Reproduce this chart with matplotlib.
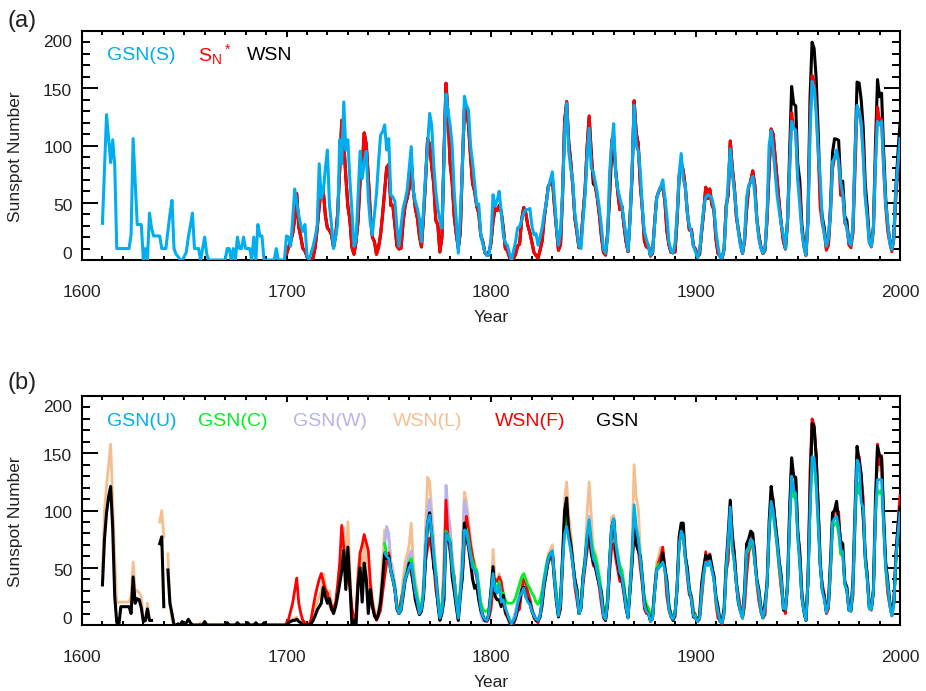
import numpy as np
import matplotlib
matplotlib.use("Agg")
import matplotlib.pyplot as plt
from matplotlib.ticker import MultipleLocator, NullFormatter
from matplotlib.transforms import blended_transform_factory

plt.rcParams['font.family'] = ['Liberation Sans', 'DejaVu Sans']
plt.rcParams['mathtext.default'] = 'regular'

nan = float('nan')

# ---------------- Panel (a) data ----------------
GSN_S_START = 1610
GSN_S = [
    32, 80, 127, 106, 85, 105, 83, 10, 10, 10,      # 1610
    10, 10, 10, 10, 22, 106, 68, 31, 31, 31,        # 1620
    0, 10, 0, 41, 28, 21, 21, 21, 21, 10,           # 1630
    10, 10, 25, 40, 52, 10, 5, 3, 0, 0,             # 1640
    3, 7, 20, 30, 41, 10, 10, 10, 0, 10,            # 1650
    20, 5, 0, 0, 0, 0, 0, 0, 0, 0,                  # 1660
    0, 10, 10, 0, 10, 0, 20, 10, 10, 20,            # 1670
    10, 10, 10, 0, 20, 0, 31, 21, 21, 0,            # 1680
    0, 0, 0, 0, 0, 10, 0, 0, 0, 0,                  # 1690
    21, 20, 12, 35, 62, 50, 39, 30, 25, 31,         # 1700
    4, 0, 6, 12, 20, 30, 84, 54, 60, 80,            # 1710
    96, 48, 31, 10, 20, 31, 105, 84, 138, 96,       # 1720
    105, 70, 42, 12, 17, 55, 95, 71, 85, 95,        # 1730
    54, 32, 22, 40, 58, 85, 109, 112, 118, 96,      # 1740
    106, 57, 55, 51, 29, 12, 30, 45, 52, 61,        # 1750
    80, 99, 60, 51, 45, 36, 16, 45, 74, 100,        # 1760
    128, 118, 83, 60, 45, 35, 28, 86, 145, 130,     # 1770
    118, 100, 60, 36, 6, 40, 80, 143, 135, 131,     # 1780
    100, 85, 67, 48, 49, 22, 14, 7, 4, 4,           # 1790
    19, 57, 47, 52, 60, 42, 22, 15, 13, 6,          # 1800
    0, 8, 16, 28, 29, 35, 41, 44, 44, 45,           # 1810
    30, 22, 23, 13, 20, 28, 40, 50, 63, 70,         # 1820
    77, 55, 30, 13, 25, 60, 110, 137, 95, 80,       # 1830
    68, 40, 28, 12, 10, 35, 57, 90, 115, 80,        # 1840
    77, 68, 58, 45, 29, 10, 6, 19, 77, 100,         # 1850
    119, 75, 62, 54, 47, 35, 22, 8, 35, 80,         # 1860
    135, 100, 95, 78, 45, 25, 18, 12, 4, 7,         # 1870
    30, 54, 60, 64, 70, 55, 39, 16, 8, 6,           # 1880
    15, 40, 75, 93, 70, 65, 40, 30, 24, 12,         # 1890
    7, 2, 8, 28, 45, 55, 57, 56, 54, 46,            # 1900
    25, 12, 2, 2, 10, 42, 70, 97, 75, 60,           # 1910
    42, 24, 12, 6, 20, 55, 65, 68, 73, 58,          # 1920
    35, 18, 10, 6, 10, 42, 100, 113, 95, 75,        # 1930
    55, 42, 30, 22, 10, 35, 80, 121, 115, 113,      # 1940
    70, 47, 25, 12, 4, 35, 110, 156, 150, 128,      # 1950
    95, 72, 35, 22, 12, 20, 42, 86, 89, 96,         # 1960
    85, 68, 58, 35, 28, 16, 13, 30, 95, 135,        # 1970
    130, 120, 89, 55, 36, 15, 12, 28, 85, 121,      # 1980
    118, 121, 83, 50, 33, 15, 9, 20, 63, 85,        # 1990
    106,                                            # 2000
]

WSN_START = 1700
WSN = [
    5, 11, 16, 23, 36, 58, 29, 20, 10, 8,
    3, 0, 0, 2, 11, 27, 47, 63, 60, 39,
    28, 26, 22, 11, 21, 40, 78, 122, 103, 73,
    47, 35, 11, 5, 16, 34, 70, 81, 111, 101,
    73, 40, 20, 16, 5, 11, 22, 40, 60, 80.9,
    83.4, 47.7, 47.8, 30.7, 12.2, 9.6, 10.2, 32.4, 47.6, 54.0,
    62.9, 85.9, 61.2, 45.1, 36.4, 20.9, 11.4, 37.8, 69.8, 106.1,
    100.8, 81.6, 66.5, 34.8, 30.6, 7.0, 19.8, 92.5, 154.4, 125.9,
    84.8, 68.1, 38.5, 22.8, 10.2, 24.1, 82.9, 132.0, 130.9, 118.1,
    89.9, 66.6, 60.0, 46.9, 41.0, 21.3, 16.0, 6.4, 4.1, 6.8,
    14.5, 34.0, 45.0, 43.1, 47.5, 42.2, 28.1, 10.1, 8.1, 2.5,
    0.0, 1.4, 5.0, 12.2, 13.9, 35.4, 45.8, 41.0, 30.1, 23.9,
    15.6, 6.6, 4.0, 1.8, 8.5, 16.6, 36.3, 49.6, 64.2, 67.0,
    70.9, 47.8, 27.5, 8.5, 13.2, 56.9, 121.5, 138.3, 103.2, 85.7,
    64.6, 36.7, 24.2, 10.7, 15.0, 40.1, 61.5, 98.5, 124.7, 96.3,
    66.6, 64.5, 54.1, 39.0, 20.6, 6.7, 4.3, 22.7, 54.8, 93.8,
    95.8, 77.2, 59.1, 44.0, 47.0, 30.5, 16.3, 7.3, 37.6, 74.0,
    139.0, 111.2, 101.6, 66.2, 44.7, 17.0, 11.3, 12.4, 3.4, 6.0,
    32.3, 54.3, 59.7, 63.7, 63.5, 52.2, 25.4, 13.1, 6.8, 6.3,
    7.1, 35.6, 73.0, 85.1, 78.0, 64.0, 41.8, 26.2, 26.7, 12.1,
    9.5, 2.7, 5.0, 24.4, 42.0, 63.5, 53.8, 62.0, 48.5, 43.9,
    18.6, 5.7, 3.6, 1.4, 9.6, 47.4, 57.1, 103.9, 80.6, 63.6,
    37.6, 26.1, 14.2, 5.8, 16.7, 44.3, 63.9, 69.0, 77.8, 64.9,
    35.7, 21.2, 11.1, 5.7, 8.7, 36.1, 79.7, 114.4, 109.6, 88.8,
    67.8, 47.5, 30.6, 16.3, 9.6, 33.2, 92.6, 151.6, 136.3, 134.7,
    83.9, 69.4, 31.5, 13.9, 4.4, 38.0, 141.7, 190.2, 184.8, 159.0,
    112.3, 53.9, 37.6, 27.9, 10.2, 15.1, 47.0, 93.8, 105.9, 105.5,
    104.5, 66.6, 68.9, 38.0, 34.5, 15.5, 12.6, 27.5, 92.5, 155.4,
    154.6, 140.4, 115.9, 66.6, 45.9, 17.9, 13.4, 29.4, 100.2, 157.6,
    142.6, 145.7, 94.3, 54.6, 29.9, 17.5, 8.6, 21.5, 64.3, 93.3,
    119.6,
]

SN_STAR_START = 1700
SN_STAR = [
    5, 11, 16, 23, 36, 58, 29, 20, 10, 8,
    3, 0, 0, 2, 11, 27, 47, 63, 60, 39,
    28, 26, 22, 11, 21, 40, 78, 122, 103, 73,
    47, 35, 11, 5, 16, 34, 70, 81, 111, 101,
    73, 40, 20, 16, 5, 11, 22, 40, 60, 80.9,
    83.4, 47.7, 47.8, 30.7, 12.2, 9.6, 10.2, 32.4, 47.6, 54.0,
    62.9, 85.9, 61.2, 45.1, 36.4, 20.9, 11.4, 37.8, 69.8, 106.1,
    100.8, 81.6, 66.5, 34.8, 30.6, 7.0, 19.8, 92.5, 154.4, 125.9,
    84.8, 68.1, 38.5, 22.8, 10.2, 24.1, 82.9, 132.0, 130.9, 118.1,
    89.9, 66.6, 60.0, 46.9, 41.0, 21.3, 16.0, 6.4, 4.1, 6.8,
    14.5, 34.0, 45.0, 43.1, 47.5, 42.2, 28.1, 10.1, 8.1, 2.5,
    0.0, 1.4, 5.0, 12.2, 13.9, 35.4, 45.8, 41.0, 30.1, 23.9,
    15.6, 6.6, 4.0, 1.8, 8.5, 16.6, 36.3, 49.6, 64.2, 67.0,
    70.9, 47.8, 27.5, 8.5, 13.2, 56.9, 121.5, 138.3, 103.2, 85.7,
    64.6, 36.7, 24.2, 10.7, 15.0, 40.1, 61.5, 98.5, 126.0, 92.0,
    72.0, 64.5, 54.1, 39.0, 20.6, 6.7, 4.3, 22.7, 60.0, 105.0,
    108.0, 77.2, 59.1, 44.0, 47.0, 30.5, 16.3, 7.3, 37.6, 74.0,
    139.0, 111.2, 101.6, 66.2, 44.7, 17.0, 11.3, 12.4, 3.4, 6.0,
    32.3, 54.3, 59.7, 63.7, 63.5, 52.2, 25.4, 13.1, 6.8, 6.3,
    7.1, 35.6, 73.0, 85.1, 78.0, 64.0, 41.8, 26.2, 26.7, 12.1,
    9.5, 2.7, 5.0, 24.4, 42.0, 63.5, 53.8, 62.0, 48.5, 43.9,
    18.6, 5.7, 3.6, 1.4, 9.6, 47.4, 57.1, 103.9, 80.6, 63.6,
    37.6, 26.1, 14.2, 5.8, 16.7, 44.3, 63.9, 69.0, 77.8, 64.9,
    35.7, 21.2, 11.1, 5.7, 8.7, 36.1, 79.7, 114.4, 109.6, 88.8,
    67.8, 47.5, 30.6, 16.3, 9.6, 33.2, 78.5, 128.5, 115.5, 114.2,
    71.1, 58.8, 26.7, 11.8, 3.7, 32.2, 120.1, 161.2, 156.6, 134.7,
    95.2, 45.7, 31.9, 23.6, 8.6, 12.8, 39.8, 79.5, 89.7, 89.4,
    88.6, 56.4, 58.4, 32.2, 29.2, 13.1, 10.7, 23.3, 78.4, 131.7,
    131.0, 119.0, 98.2, 56.4, 38.9, 15.2, 11.4, 24.9, 84.9, 133.6,
    120.8, 123.5, 79.9, 46.3, 25.3, 14.8, 7.3, 18.2, 54.5, 79.1,
    101.4,
]

# ---------------- Panel (b) data ----------------
GSN_START = 1610
GSN = [
    35, 75, 98, 112, 121, 85, 25, 2, 0, 16,
    16, 16, 16, 16, 10, 42, 19, 23, 22, 15,
    3, 4, 14, 4, 4, nan, nan, nan, 71, 77,
    16, nan, 48, 19, 10, 0, 0, 1, 0, 3,
    0, 2, 5, 2, 0, 0, 0, 0, 0, 0,
    3, 0, 0, 0, 0, 0, 0, 0, 0, 0,
    0, 2, 0, 0, 0, 0, 2, 0, 0, 0,
    0, 2, 0, 0, 0, 2, 0, 0, 0, 2,
    0, 0, 0, 0, 0, 0, 0, 0, 0, 0,
    0, 2, 3, 4, 4, 5, 3, 2, 0, 0,
    0, 0, 1, 4, 8, 13, 16, 19, 33, 25,
    19, 23, 15, 10, 16, 25, 36, 47, 65, 31,
    68, 36, 0, 4, 0, 35, 50, 20, 54, 40,
    10, 31, 16, 8, 5, 10, 20, 40, 63, 58,
    60, 47, 40, 31, 15, 10, 13, 25, 39, 45,
    54, 50, 36, 22, 15, 9, 12, 25, 60, 89,
    98, 77, 50, 42, 19, 4, 10, 22, 80, 75,
    71, 42, 30, 16, 4, 25, 42, 89, 77, 68,
    55, 40, 32, 35, 22, 13, 8, 4, 4, 10,
    31, 51, 25, 22, 22, 16, 26, 12, 8, 4,
    0, 3, 7, 15, 22, 30, 33, 25, 22, 19,
    12, 8, 4, 4, 7, 20, 36, 45, 57, 62,
    64, 39, 20, 7, 20, 60, 100, 111, 80, 70,
    54, 40, 31, 10, 15, 42, 55, 75, 86, 63,
    55, 51, 42, 35, 28, 10, 4, 19, 54, 85,
    92, 65, 55, 44, 40, 31, 16, 7, 30, 55,
    93, 71, 65, 60, 40, 20, 13, 10, 4, 7,
    30, 48, 50, 52, 63, 50, 39, 16, 8, 4,
    10, 31, 77, 89, 89, 60, 50, 31, 22, 7,
    6, 4, 8, 36, 50, 61, 58, 61, 52, 42,
    25, 16, 3, 3, 15, 54, 80, 109, 75, 60,
    36, 19, 12, 7, 31, 71, 75, 82, 80, 57,
    40, 31, 15, 7, 20, 36, 90, 121, 106, 90,
    74, 55, 42, 13, 15, 36, 100, 146, 130, 129,
    83, 60, 25, 12, 4, 40, 110, 176, 173, 147,
    100, 55, 31, 25, 12, 20, 55, 98, 100, 108,
    90, 73, 71, 38, 33, 13, 13, 39, 100, 156,
    144, 130, 95, 60, 42, 15, 15, 31, 110, 156,
    148, 146, 95, 55, 39, 20, 13, 20, 60, 85,
    103,
]

WSN_L_START = 1610
WSN_L = [
    47, 100, 121, 140, 158, 110, 60, 19, 20, 20,
    20, 20, 20, 20, 25, 55, 29, 30, 28, 25,
    4, 4, 19, 4, 4, nan, nan, nan, 90, 100,
    77, nan, 62, 19, 5, 0, 0, 1, 0, 2,
    1, 2, 4, 2, 0, 0, 0, 0, 2, 0,
    2, 0, 0, 0, 0, 0, 0, 0, 0, 0,
    0, 1, 0, 0, 0, 0, 1, 0, 0, 0,
    0, 1, 0, 0, 0, 1, 0, 0, 0, 1,
    0, 0, 0, 0, 0, 0, 0, 0, 0, 0,
    0, 2, 4, 5, 6, 7, 4, 2, 0, 0,
    0, 0, 2, 6, 12, 20, 25, 30, 45, 35,
    28, 30, 20, 14, 20, 32, 48, 62, 85, 45,
    90, 50, 5, 8, 4, 50, 64, 30, 74, 50,
    18, 40, 22, 12, 8, 14, 28, 55, 83, 78,
    75, 55, 50, 35, 15, 12, 18, 40, 55, 62,
    70, 89, 55, 38, 30, 14, 18, 38, 85, 129,
    125, 100, 75, 50, 30, 8, 18, 60, 106, 95,
    85, 60, 42, 25, 8, 35, 70, 116, 108, 92,
    75, 60, 55, 48, 35, 16, 10, 5, 4, 8,
    25, 66, 40, 38, 45, 35, 30, 15, 10, 4,
    1, 3, 8, 18, 25, 35, 42, 35, 28, 22,
    14, 8, 5, 4, 9, 22, 40, 50, 62, 66,
    70, 45, 25, 8, 15, 58, 110, 125, 95, 80,
    62, 38, 26, 11, 15, 40, 60, 98, 125, 96,
    67, 64, 54, 39, 21, 7, 4, 23, 55, 94,
    96, 77, 59, 44, 47, 30, 16, 7, 38, 74,
    140, 111, 102, 66, 45, 17, 11, 12, 3, 6,
    32, 54, 60, 68, 64, 52, 25, 13, 7, 6,
    7, 36, 73, 85, 78, 64, 42, 26, 27, 12,
    9, 3, 5, 24, 42, 62, 53, 60, 47, 42,
    18, 6, 4, 1, 10, 46, 56, 100, 78, 62,
    37, 25, 14, 6, 16, 43, 62, 67, 75, 63,
    35, 21, 11, 6, 9, 35, 78, 110, 106, 86,
    66, 46, 30, 16, 10, 32, 90, 142, 128, 126,
    80, 65, 30, 13, 4, 36, 130, 172, 170, 148,
    104, 50, 35, 26, 10, 14, 44, 88, 98, 98,
    97, 62, 64, 35, 32, 14, 12, 26, 86, 145,
    143, 130, 108, 62, 43, 17, 13, 28, 93, 148,
    135, 138, 88, 51, 28, 16, 8, 20, 60, 87,
    109,
]

WSN_F_START = 1700
WSN_F = [
    2, 5, 12, 19, 30, 41, 19, 10, 4, 2,
    1, 0, 5, 15, 25, 33, 40, 45, 38, 31,
    28, 19, 13, 15, 19, 35, 54, 87, 68, 44,
    40, 33, 15, 5, 10, 40, 63, 70, 79, 72,
    65, 36, 20, 10, 4, 8, 13, 28, 42, 55,
    63, 47, 40, 31, 13, 10, 22, 30, 40, 45,
    51, 45, 36, 25, 20, 12, 15, 25, 55, 68,
    76, 65, 54, 31, 20, 6, 15, 40, 109, 75,
    63, 50, 42, 20, 4, 30, 42, 70, 95, 83,
    70, 60, 50, 42, 30, 15, 8, 4, 3, 6,
    14, 34, 40, 38, 42, 38, 25, 10, 7, 2,
    0, 1, 5, 12, 14, 30, 40, 38, 28, 22,
    14, 6, 4, 2, 8, 16, 33, 45, 55, 58,
    60, 42, 25, 8, 13, 50, 95, 105, 85, 72,
    55, 33, 22, 10, 14, 35, 50, 65, 77, 65,
    52, 50, 44, 32, 18, 6, 4, 18, 45, 68,
    71, 58, 48, 38, 38, 26, 14, 6, 30, 55,
    76, 70, 66, 50, 35, 14, 10, 10, 3, 5,
    28, 48, 55, 60, 68, 50, 25, 13, 7, 6,
    7, 35, 70, 82, 75, 62, 42, 26, 26, 12,
    9, 3, 5, 24, 42, 64, 54, 62, 48, 44,
    19, 6, 4, 1, 10, 47, 57, 104, 81, 64,
    38, 26, 14, 6, 17, 44, 64, 69, 78, 65,
    36, 21, 11, 6, 9, 36, 80, 114, 110, 89,
    68, 48, 31, 16, 10, 33, 93, 140, 130, 128,
    80, 66, 30, 13, 4, 36, 135, 180, 175, 150,
    106, 51, 36, 26, 10, 14, 45, 89, 100, 100,
    99, 63, 65, 36, 33, 15, 12, 26, 88, 148,
    147, 133, 110, 63, 44, 17, 13, 28, 95, 158,
    140, 148, 90, 52, 28, 17, 8, 20, 61, 89,
    113,
]

GSN_U_START = 1748
GSN_U = [
    63, 60,
    58, 47, 40, 31, 15, 10, 14, 28, 40, 45,
    50, 54, 40, 28, 20, 10, 14, 28, 65, 90,
    96, 80, 60, 42, 22, 6, 12, 30, 80, 76,
    72, 50, 36, 20, 6, 28, 50, 83, 82, 70,
    60, 50, 48, 45, 30, 15, 8, 5, 4, 10,
    28, 45, 30, 28, 35, 20, 22, 15, 10, 5,
    1, 4, 8, 18, 25, 28, 32, 25, 20, 18,
    12, 8, 5, 4, 8, 22, 38, 48, 58, 62,
    65, 40, 22, 8, 20, 55, 80, 86, 75, 65,
    52, 36, 28, 10, 15, 40, 55, 78, 92, 70,
    58, 54, 45, 36, 25, 8, 5, 20, 55, 85,
    93, 70, 58, 46, 42, 30, 16, 6, 32, 60,
    105, 85, 75, 58, 40, 18, 12, 10, 3, 6,
    28, 48, 50, 52, 55, 48, 35, 14, 7, 5,
    10, 32, 70, 82, 78, 58, 45, 30, 22, 8,
    6, 3, 6, 30, 45, 55, 52, 56, 48, 40,
    22, 12, 3, 2, 12, 50, 75, 103, 68, 55,
    35, 20, 11, 6, 28, 65, 68, 75, 73, 55,
    38, 28, 13, 6, 16, 35, 85, 108, 100, 84,
    70, 52, 38, 14, 14, 35, 90, 130, 118, 115,
    78, 55, 24, 12, 4, 38, 100, 147, 146, 125,
    90, 52, 30, 22, 11, 18, 50, 90, 93, 95,
    85, 66, 64, 36, 31, 13, 12, 35, 95, 144,
    140, 107, 103, 58, 40, 14, 14, 30, 100, 127,
    127, 127, 88, 50, 36, 18, 8, 18, 58, 80,
    98,
]

GSN_C_START = 1748
GSN_C = [
    71, 62,
    58, 48, 42, 33, 18, 13, 16, 30, 42, 48,
    55, 58, 45, 32, 24, 14, 18, 30, 66, 88,
    92, 82, 62, 45, 26, 10, 16, 34, 82, 78,
    74, 54, 40, 24, 10, 30, 52, 85, 84, 74,
    62, 55, 50, 48, 35, 20, 14, 12, 12, 15,
    30, 46, 35, 33, 38, 26, 28, 22, 19, 19,
    19, 20, 24, 30, 36, 42, 45, 40, 35, 32,
    28, 25, 20, 18, 22, 30, 42, 52, 60, 62,
    64, 45, 28, 14, 24, 58, 85, 95, 80, 68,
    55, 40, 32, 15, 20, 44, 60, 80, 90, 75,
    64, 60, 52, 42, 30, 14, 10, 24, 58, 86,
    92, 72, 62, 52, 48, 36, 22, 12, 36, 62,
    100, 84, 76, 60, 44, 24, 18, 15, 8, 10,
    30, 50, 53, 55, 58, 50, 38, 18, 10, 8,
    12, 34, 70, 82, 78, 60, 46, 32, 24, 10,
    8, 4, 8, 30, 45, 55, 52, 56, 48, 40,
    22, 12, 4, 3, 12, 48, 72, 98, 66, 54,
    35, 20, 12, 6, 28, 62, 66, 72, 70, 54,
    38, 28, 13, 6, 16, 34, 82, 104, 96, 82,
    68, 50, 36, 14, 14, 34, 86, 122, 112, 110,
    75, 52, 24, 12, 5, 36, 98, 143, 140, 120,
    86, 50, 30, 22, 12, 18, 48, 85, 88, 90,
    80, 62, 60, 35, 30, 14, 12, 34, 90, 125,
    115, 113, 95, 55, 38, 14, 14, 30, 95, 118,
    115, 118, 85, 48, 34, 18, 8, 18, 56, 78,
    95,
]

GSN_W_START = 1748
GSN_W = [
    70, 86,
    80, 55, 45, 33, 15, 10, 15, 30, 45, 55,
    60, 65, 48, 33, 24, 12, 16, 32, 75, 100,
    110, 90, 68, 48, 26, 8, 15, 45, 122, 100,
    85, 60, 42, 22, 6, 32, 60, 109, 100, 85,
    70, 58, 50, 40, 25, 10, 4, 3, 4, 10,
    26, 44, 30, 28, 34, 22, 20, 14, 8, 4,
    1, 6, 12, 22, 30, 35, 38, 33, 30, 25,
    15, 10, 6, 5, 10, 24, 38, 48, 58, 62,
    65, 40, 22, 8, 20, 55, 82, 90, 76, 66,
    52, 36, 28, 10, 15, 40, 56, 80, 95, 72,
    58, 54, 45, 36, 25, 8, 5, 20, 55, 85,
    93,
]

# ---------------- styling ----------------
BLUE = '#00AEEF'
RED = '#FF0000'
GREEN = '#00F020'
LAVENDER = '#B4B4F0'
PEACH = '#F5BE8E'
TXT = '#222222'

YTICKS = [0, 50, 100, 150, 200]


def series(start, vals):
    v = np.array(vals, dtype=float)
    return np.arange(start, start + len(v)), v


fig = plt.figure(figsize=(9.26, 6.91), dpi=100)
W, H = 926.0, 691.0
ax_a = fig.add_axes([82 / W, 1 - 260 / H, 818 / W, 229 / H])
ax_b = fig.add_axes([82 / W, 1 - 625 / H, 818 / W, 229 / H])

# label vertical offsets (data units) to mimic reference placement
ylab_pos = {0: 4.5, 50: 46.5, 100: 97.0, 150: 147.0, 200: 190.0}


def style(ax):
    ax.set_xlim(1600, 2000)
    ax.set_ylim(0, 200)
    ax.xaxis.set_major_locator(MultipleLocator(100))
    ax.xaxis.set_minor_locator(MultipleLocator(10))
    ax.yaxis.set_major_locator(MultipleLocator(50))
    ax.yaxis.set_minor_locator(MultipleLocator(10))
    ax.tick_params(which='both', direction='in', top=True, right=True,
                   width=1.4, color='black')
    ax.tick_params(axis='y', which='major', length=11.5)
    ax.tick_params(axis='y', which='minor', length=5.8)
    ax.tick_params(axis='x', which='major', length=4.5, pad=18,
                   labelsize=12.5, labelcolor=TXT)
    ax.tick_params(axis='x', which='minor', length=3.2)
    ax.yaxis.set_major_formatter(NullFormatter())
    for s in ax.spines.values():
        s.set_linewidth(1.5)
    tr = blended_transform_factory(ax.transAxes, ax.transData)
    for v in YTICKS:
        ax.text(-0.012, ylab_pos[v], str(v), transform=tr, ha='right',
                va='center', fontsize=12.5, color=TXT)
    ax.text(-0.0807, 0.45, 'Sunspot Number', rotation=90, transform=ax.transAxes,
            ha='center', va='center', fontsize=12.5, color=TXT)
    ax.text(0.5, -0.253, 'Year', transform=ax.transAxes, ha='center',
            va='center', fontsize=12.5, color=TXT)


# Panel (a)
x, y = series(WSN_START, WSN)
ax_a.plot(x, y, color='black', lw=2.2, zorder=3)
x, y = series(SN_STAR_START, SN_STAR)
ax_a.plot(x, y, color=RED, lw=2.2, zorder=4)
x, y = series(GSN_S_START, GSN_S)
ax_a.plot(x, y, color=BLUE, lw=2.2, zorder=5)
style(ax_a)
ly = 0.895
ax_a.text(0.0302, ly, 'GSN(S)', color=BLUE, transform=ax_a.transAxes,
          fontsize=14, va='center', ha='left')
ax_a.text(0.1418, ly, r'S$_N$$^*$', color=RED, transform=ax_a.transAxes,
          fontsize=14, va='center', ha='left')
ax_a.text(0.2017, ly, 'WSN', color='black', transform=ax_a.transAxes,
          fontsize=14, va='center', ha='left')

# Panel (b)
x, y = series(WSN_L_START, WSN_L)
ax_b.plot(x, y, color=PEACH, lw=2.0, zorder=2)
x, y = series(GSN_W_START, GSN_W)
ax_b.plot(x, y, color=LAVENDER, lw=2.0, zorder=3)
x, y = series(WSN_F_START, WSN_F)
ax_b.plot(x, y, color=RED, lw=2.0, zorder=4)
x, y = series(GSN_C_START, GSN_C)
ax_b.plot(x, y, color=GREEN, lw=2.0, zorder=5)
x, y = series(GSN_START, GSN)
ax_b.plot(x, y, color='black', lw=2.2, zorder=6)
x, y = series(GSN_U_START, GSN_U)
ax_b.plot(x, y, color=BLUE, lw=2.0, zorder=7)
style(ax_b)
ly = 0.888
for xp, lab, col in [(0.0302, 'GSN(U)', BLUE), (0.1422, 'GSN(C)', GREEN),
                     (0.2583, 'GSN(W)', LAVENDER), (0.3806, 'WSN(L)', PEACH),
                     (0.5049, 'WSN(F)', RED), (0.6284, 'GSN', 'black')]:
    ax_b.text(xp, ly, lab, color=col, transform=ax_b.transAxes, fontsize=14,
              va='center', ha='left')

fig.text(22 / W, 1 - 21.5 / H, '(a)', fontsize=17, ha='center', va='center', color=TXT)
fig.text(22 / W, 1 - 382.5 / H, '(b)', fontsize=17, ha='center', va='center', color=TXT)

fig.savefig('out.png', dpi=100)
